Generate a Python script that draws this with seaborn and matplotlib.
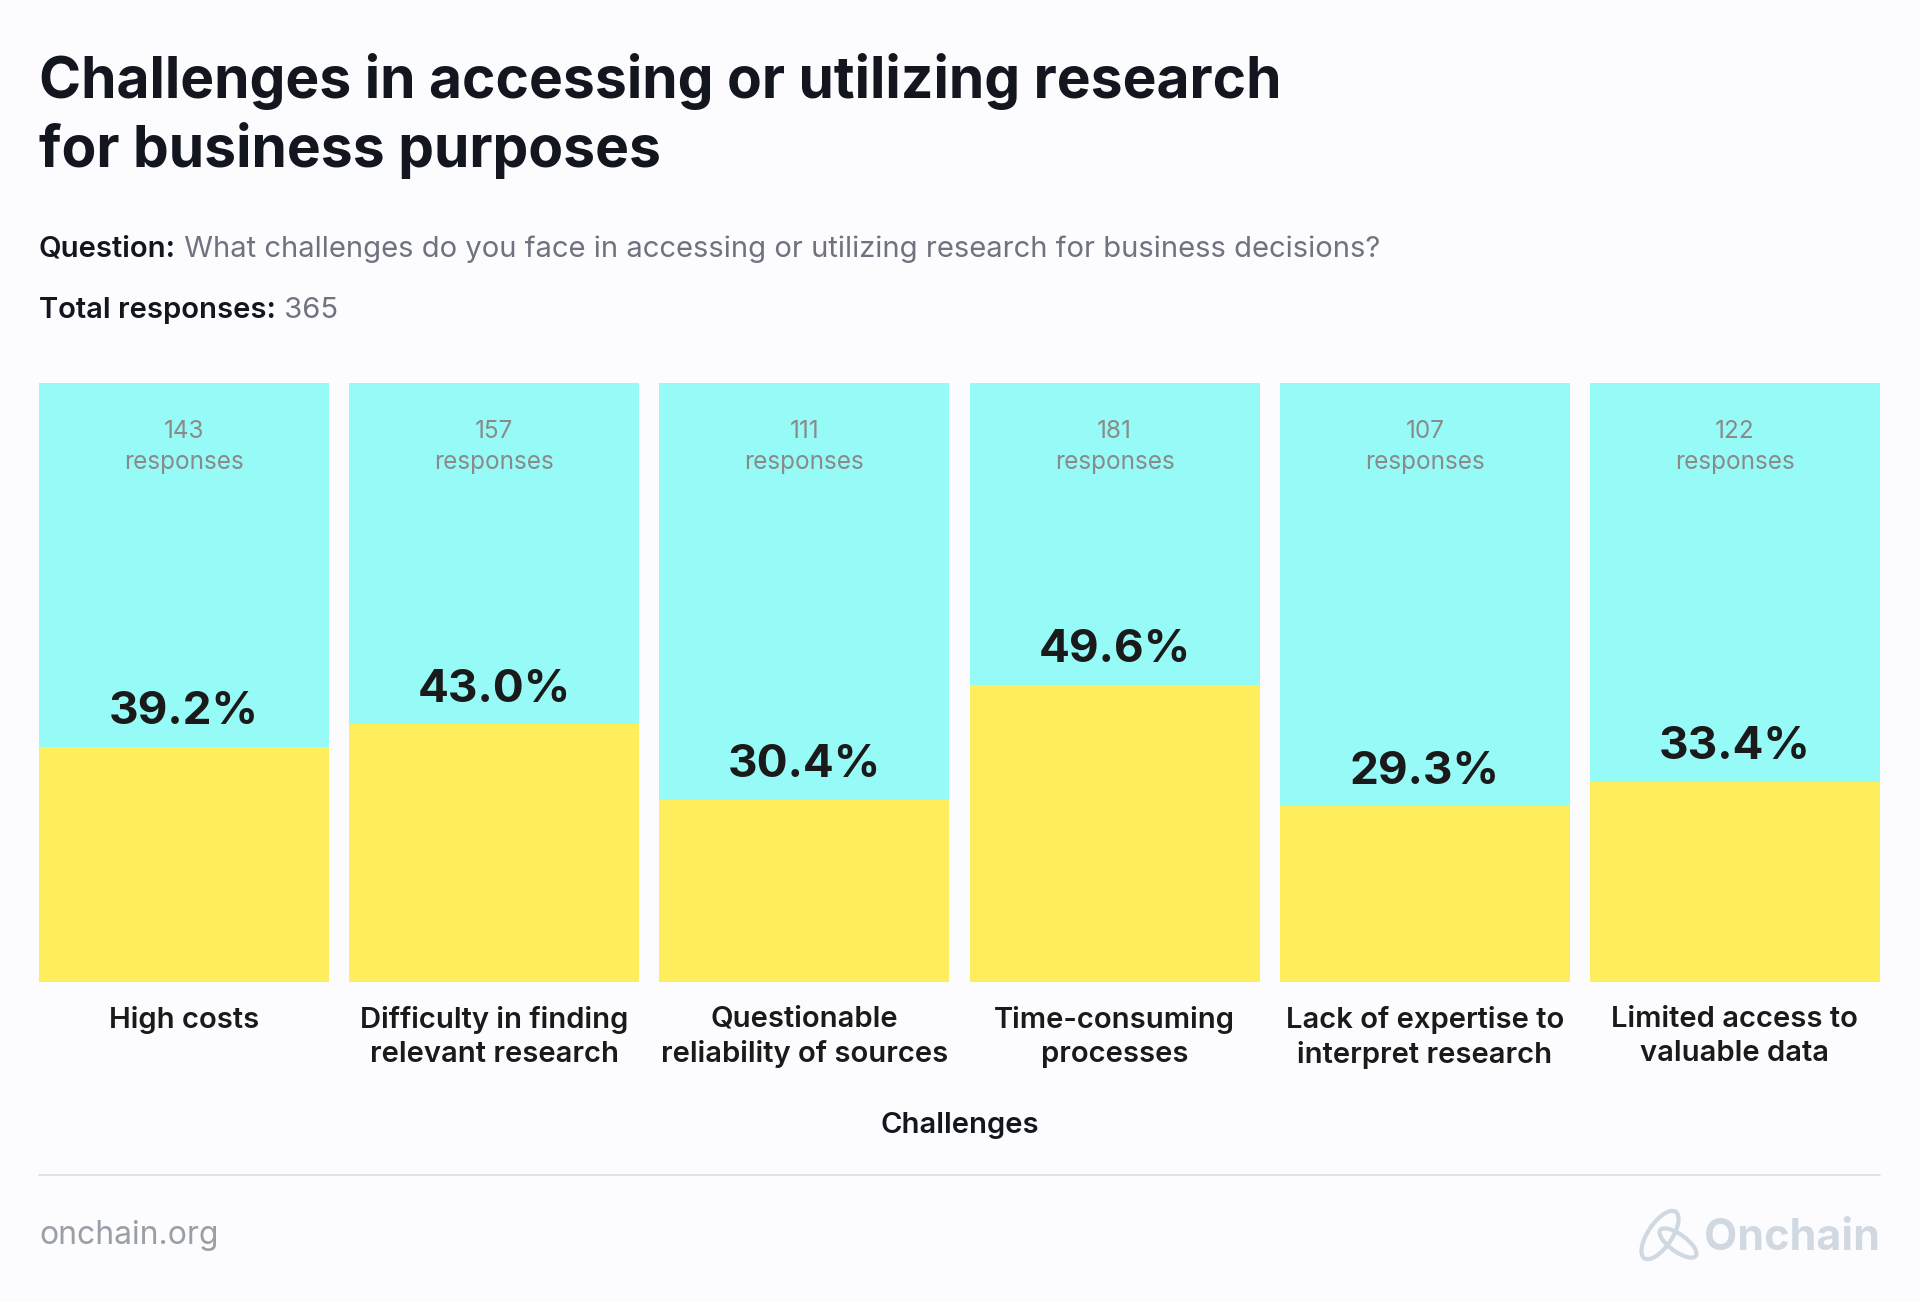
import matplotlib
matplotlib.use('Agg')
import matplotlib.pyplot as plt
import seaborn as sns
import pandas as pd
from matplotlib.patches import Ellipse
from matplotlib.lines import Line2D

categories = ["High costs", "Difficulty in finding\nrelevant research", "Questionable\nreliability of sources",
              "Time-consuming\nprocesses", "Lack of expertise to\ninterpret research", "Limited access to\nvaluable data"]
percentages = [39.2, 43.0, 30.4, 49.6, 29.3, 33.4]
responses = [143, 157, 111, 181, 107, 122]
total_responses = 365
full_scale = [100] * len(categories)

BG = '#fcfcfe'
CYAN = '#96fbf7'
YELLOW = '#ffee5c'
DARK = '#13161f'
GREY = '#6f7380'
LOGO = '#d0d8e2'

sns.set_theme(style='white')
plt.rcParams['font.family'] = ['Inter', 'DejaVu Sans']

W, H = 1920, 1302
fig = plt.figure(figsize=(W / 100, H / 100), dpi=100, facecolor=BG)


def fx(px):
    return px / W


def fy(py):
    return 1 - py / H


ax = fig.add_axes([fx(39), fy(982), (1880 - 39) / W, (982 - 383) / H])
ax.set_facecolor(BG)
df = pd.DataFrame({'cat': categories, 'pct': percentages, 'full': full_scale})
bw = 290 / 310
sns.barplot(data=df, x='cat', y='full', color=CYAN, width=bw, saturation=1, ax=ax,
            linewidth=0, errorbar=None)
sns.barplot(data=df, x='cat', y='pct', color=YELLOW, width=bw, saturation=1, ax=ax,
            linewidth=0, errorbar=None)
ax.set_xlim(-bw / 2, len(categories) - 1 + bw / 2)
ax.set_ylim(0, 100)
for s in ax.spines.values():
    s.set_visible(False)
ax.set_yticks([])
ax.set_ylabel('')
ax.set_xticks(range(len(categories)))
ax.set_xticklabels(categories, fontsize=21, fontweight='semibold', color='#1a1a1a', linespacing=1.35)
ax.tick_params(axis='x', length=0, pad=17)
ax.set_xlabel('Challenges', fontsize=21, fontweight='semibold', color=DARK, labelpad=31)

for i, (p, r) in enumerate(zip(percentages, responses)):
    ax.text(i, p + 5.8, f"{p:.1f}%", ha='center', va='center', fontsize=33,
            fontweight='bold', color='#1a1a1a')
    ax.text(i, 93.8, f"{r}\nresponses", ha='center', va='top', fontsize=17.5,
            color='#8a8a8a', linespacing=1.45)

# Title
fig.text(fx(39), fy(98), 'Challenges in accessing or utilizing research', fontsize=41,
         fontweight='bold', va='baseline', ha='left', color=DARK)
fig.text(fx(39), fy(167), 'for business purposes', fontsize=41,
         fontweight='bold', va='baseline', ha='left', color=DARK)

t1 = fig.text(fx(39), fy(257), 'Question:', fontsize=21, fontweight='semibold',
              va='baseline', ha='left', color=DARK)
t2 = fig.text(fx(39), fy(318), 'Total responses:', fontsize=21, fontweight='semibold',
              va='baseline', ha='left', color=DARK)

# place grey continuations next to the bold labels
fig.canvas.draw()
renderer = fig.canvas.get_renderer()
for lab, txt in [(t1, ' What challenges do you face in accessing or utilizing research for business decisions?'),
                 (t2, f' {total_responses}')]:
    bb = lab.get_window_extent(renderer)
    x0 = bb.x1 / W
    fig.text(x0, lab.get_position()[1], txt, fontsize=21, color=GREY, va='baseline', ha='left')

# footer
fig.add_artist(Line2D([fx(39), fx(1880)], [fy(1175), fy(1175)], color='#dcdde2', lw=1.2))
fig.text(fx(39), fy(1244), 'onchain.org', fontsize=23, color='#9a9ea6', va='baseline', ha='left')
fig.text(fx(1880), fy(1250), 'Onchain', fontsize=31, fontweight='bold', color=LOGO,
         va='baseline', ha='right')

ax_icon = fig.add_axes([fx(1630), fy(1270), 80 / W, 75 / H])
ax_icon.set_xlim(0, 80)
ax_icon.set_ylim(0, 75)
ax_icon.axis('off')
ax_icon.add_patch(Ellipse((30, 35), 56, 24, angle=56, fill=False, ec=LOGO, lw=3.0))
ax_icon.add_patch(Ellipse((48, 27), 44, 17, angle=-36, fill=False, ec=LOGO, lw=3.0))

fig.savefig('out.png', dpi=100, facecolor=BG)
